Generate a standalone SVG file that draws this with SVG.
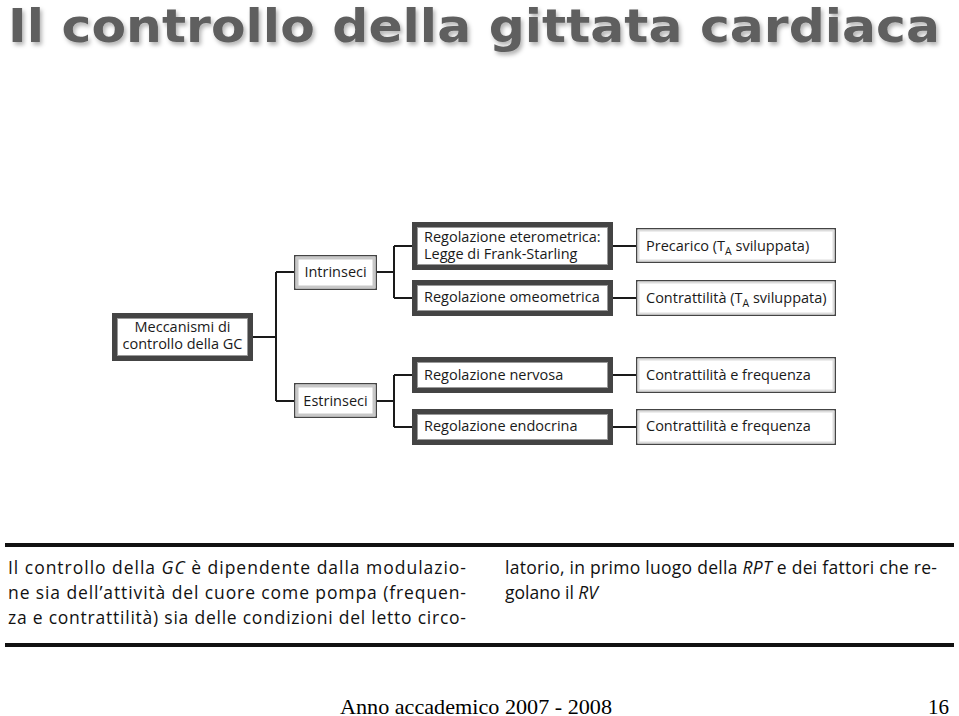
<svg xmlns="http://www.w3.org/2000/svg" width="959" height="716" viewBox="0 0 959 716">
<style>
.t{font-family:"Open Sans","Noto Sans","Liberation Sans",sans-serif;font-size:14.5px;fill:#1a1a1a}
.b{font-family:"Open Sans","Noto Sans","Liberation Sans",sans-serif;font-size:17.5px;fill:#111}
.dk{fill:#fff;stroke:#444;stroke-width:5}
.dki{fill:none;stroke:#9a9a9a;stroke-width:1}
.lo{fill:#fff;stroke:#444;stroke-width:1.5}
.li{fill:none;stroke:#c8c8c8;stroke-width:3}
.ri{fill:none;stroke:#dcdcdc;stroke-width:2}
.c{fill:none;stroke:#1a1a1a;stroke-width:2}
.rule{stroke:#111;stroke-width:4}
</style>
<defs>
<filter id="sh" x="-5%" y="-20%" width="110%" height="150%">
<feDropShadow dx="2" dy="3" stdDeviation="2" flood-color="#000" flood-opacity="0.3"/>
</filter>
</defs>
<rect width="959" height="716" fill="#fff"/>
<text x="8" y="42" font-family="'DejaVu Sans',Verdana,sans-serif" font-weight="bold" font-size="47" fill="#5e5e5e" textLength="932" lengthAdjust="spacingAndGlyphs" filter="url(#sh)">Il controllo della gittata cardiaca</text>

<g id="connectors">
<path class="c" d="M253 337H276M276 272V401M276 272H294M276 401H294"/>
<path class="c" d="M377 272H394M394 246V298M394 246H412M394 298H412"/>
<path class="c" d="M377 401H394M394 375V427M394 375H412M394 427H412"/>
<path class="c" d="M613 246H636M613 298H636M613 375H636M613 427H636"/>
</g>

<g id="meccanismi">
<rect class="dk" x="114.5" y="315.5" width="136" height="43"/>
<rect class="dki" x="117.5" y="318.5" width="130" height="37"/>
<text class="t" x="182.5" y="332" text-anchor="middle">Meccanismi di</text>
<text class="t" x="182.5" y="349" text-anchor="middle">controllo della GC</text>
</g>
<g id="intrinseci">
<rect class="lo" x="294.75" y="255.75" width="81.5" height="33.5"/>
<rect class="li" x="297" y="258" width="77" height="29"/>
<text class="t" x="335.5" y="277" text-anchor="middle">Intrinseci</text>
</g>
<g id="estrinseci">
<rect class="lo" x="294.75" y="383.75" width="81.5" height="33.5"/>
<rect class="li" x="297" y="386" width="77" height="29"/>
<text class="t" x="335.5" y="406" text-anchor="middle">Estrinseci</text>
</g>

<g id="eterometrica">
<rect class="dk" x="414.5" y="224.5" width="196" height="43"/>
<rect class="dki" x="417.5" y="227.5" width="190" height="37"/>
<text class="t" x="424" y="242">Regolazione eterometrica:</text>
<text class="t" x="424" y="259">Legge di Frank-Starling</text>
</g>
<g id="omeometrica">
<rect class="dk" x="414.5" y="282.5" width="196" height="31"/>
<rect class="dki" x="417.5" y="285.5" width="190" height="25"/>
<text class="t" x="424" y="302">Regolazione omeometrica</text>
</g>
<g id="nervosa">
<rect class="dk" x="414.5" y="359.5" width="196" height="31"/>
<rect class="dki" x="417.5" y="362.5" width="190" height="25"/>
<text class="t" x="424" y="380">Regolazione nervosa</text>
</g>
<g id="endocrina">
<rect class="dk" x="414.5" y="411.5" width="196" height="31"/>
<rect class="dki" x="417.5" y="414.5" width="190" height="25"/>
<text class="t" x="424" y="431">Regolazione endocrina</text>
</g>

<g id="precarico">
<rect class="lo" x="636.75" y="228.75" width="198.5" height="33.5"/>
<rect class="ri" x="638.5" y="230.5" width="195" height="30"/>
<text class="t" x="646" y="251">Precarico (T<tspan font-size="10.5" dy="4">A</tspan><tspan dy="-4"> sviluppata)</tspan></text>
</g>
<g id="contrattilita-ta">
<rect class="lo" x="636.75" y="280.75" width="198.5" height="34.5"/>
<rect class="ri" x="638.5" y="282.5" width="195" height="31"/>
<text class="t" x="646" y="303">Contrattilità (T<tspan font-size="10.5" dy="4">A</tspan><tspan dy="-4"> sviluppata)</tspan></text>
</g>
<g id="contrattilita-frequenza-1">
<rect class="lo" x="636.75" y="357.75" width="198.5" height="34.5"/>
<rect class="ri" x="638.5" y="359.5" width="195" height="31"/>
<text class="t" x="646" y="380">Contrattilità e frequenza</text>
</g>
<g id="contrattilita-frequenza-2">
<rect class="lo" x="636.75" y="409.75" width="198.5" height="34.5"/>
<rect class="ri" x="638.5" y="411.5" width="195" height="31"/>
<text class="t" x="646" y="431">Contrattilità e frequenza</text>
</g>

<g id="caption">
<line class="rule" x1="5" y1="545" x2="954" y2="545"/>
<line class="rule" x1="5" y1="645" x2="954" y2="645"/>
<text class="b" x="8" y="574" textLength="458" lengthAdjust="spacing">Il controllo della <tspan font-style="italic">GC</tspan> è dipendente dalla modulazio-</text>
<text class="b" x="8" y="599" textLength="458" lengthAdjust="spacing">ne sia dell’attività del cuore come pompa (frequen-</text>
<text class="b" x="8" y="624" textLength="458" lengthAdjust="spacing">za e contrattilità) sia delle condizioni del letto circo-</text>
<text class="b" x="505" y="574" textLength="432" lengthAdjust="spacing">latorio, in primo luogo della <tspan font-style="italic">RPT</tspan> e dei fattori che re-</text>
<text class="b" x="505" y="599">golano il <tspan font-style="italic">RV</tspan></text>
</g>

<text x="340" y="714" font-family="'Liberation Serif','Times New Roman',serif" font-size="21" fill="#000" textLength="272" lengthAdjust="spacingAndGlyphs">Anno accademico 2007 - 2008</text>
<text x="949" y="714" font-family="'Liberation Serif','Times New Roman',serif" font-size="21" fill="#000" text-anchor="end">16</text>
</svg>
